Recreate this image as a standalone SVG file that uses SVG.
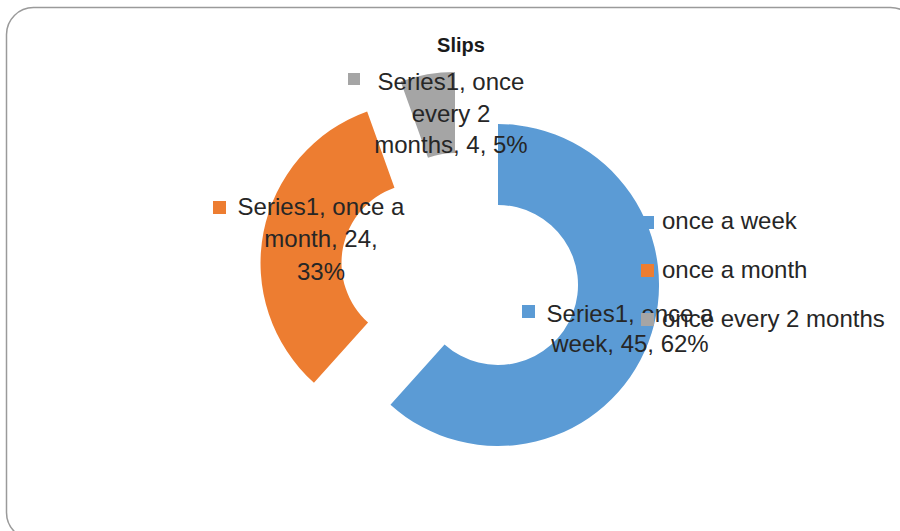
<svg xmlns="http://www.w3.org/2000/svg" width="900" height="531" viewBox="0 0 900 531">
  <style>
    .lbl { font-family: "Liberation Sans", Arial, sans-serif; font-size: 24px; fill: #262626; }
    .mid { text-anchor: middle; }
    .title { font-family: "Liberation Sans", Arial, sans-serif; font-size: 20px; font-weight: bold; fill: #1a1a1a; text-anchor: middle; }
    .blue { fill: #5B9BD5; }
    .orange { fill: #ED7D31; }
    .gray { fill: #A5A5A5; }
  </style>
  <rect x="6.5" y="7.5" width="911" height="532" rx="27" ry="27" fill="#ffffff" stroke="#9a9a9a" stroke-width="1.5"/>
  <text class="title" x="461" y="52">Slips</text>

  <g id="seg-week">
    <path class="blue" d="M498,124 A161,161 0 1 1 390.45,404.78 L444.56,344.52 A80,80 0 1 0 498,205 Z"/>
  </g>
  <g id="seg-month">
    <path class="orange" d="M313.95,382.78 A161,161 0 0 1 367.15,111.45 L394.49,187.7 A80,80 0 0 0 368.06,322.52 Z"/>
  </g>
  <g id="seg-2months">
    <path class="gray" d="M400.65,81.45 A161,161 0 0 1 455,72 L455,153 A80,80 0 0 0 427.99,157.7 Z"/>
  </g>

  <g id="label-2months">
    <rect class="gray" x="348" y="73" width="12" height="12"/>
    <text class="lbl mid" x="451" y="90">Series1, once</text>
    <text class="lbl mid" x="451" y="122">every 2</text>
    <text class="lbl mid" x="451" y="153">months, 4, 5%</text>
  </g>
  <g id="label-month">
    <rect class="orange" x="213" y="201" width="13" height="13"/>
    <text class="lbl mid" x="321" y="215">Series1, once a</text>
    <text class="lbl mid" x="321" y="247">month, 24,</text>
    <text class="lbl mid" x="321" y="280">33%</text>
  </g>
  <g id="label-week">
    <rect class="blue" x="522" y="305" width="13" height="13"/>
    <text class="lbl mid" x="630" y="322">Series1, once a</text>
    <text class="lbl mid" x="630" y="352">week, 45, 62%</text>
  </g>

  <g id="legend">
    <g id="legend-week">
      <rect class="blue" x="641" y="216" width="13" height="13"/>
      <text class="lbl" x="662" y="229">once a week</text>
    </g>
    <g id="legend-month">
      <rect class="orange" x="641" y="264" width="13" height="13"/>
      <text class="lbl" x="662" y="278">once a month</text>
    </g>
    <g id="legend-2months">
      <rect class="gray" x="641" y="313" width="13" height="13"/>
      <text class="lbl" x="662" y="327">once every 2 months</text>
    </g>
  </g>
  <g id="connectors"/>
</svg>
